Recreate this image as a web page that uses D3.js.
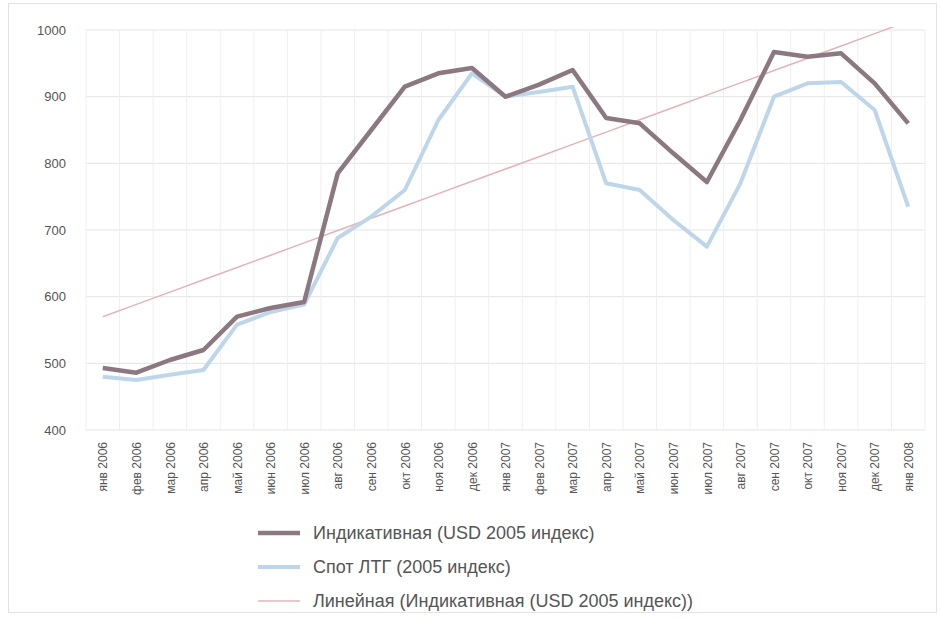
<!DOCTYPE html>
<html>
<head>
<meta charset="utf-8">
<script src="https://cdn.jsdelivr.net/npm/d3@7/dist/d3.min.js"></script>
<style>
  html, body { margin: 0; padding: 0; background: #ffffff; }
  svg { display: block; font-family: "Liberation Sans", Arial, sans-serif; }
</style>
</head>
<body>
<svg id="chart" width="942" height="619"></svg>
<script>
const categories = ["янв 2006","фев 2006","мар 2006","апр 2006","май 2006","июн 2006","июл 2006","авг 2006","сен 2006","окт 2006","ноя 2006","дек 2006",
  "янв 2007","фев 2007","мар 2007","апр 2007","май 2007","июн 2007","июл 2007","авг 2007","сен 2007","окт 2007","ноя 2007","дек 2007","янв 2008"];
const indicative = [493, 486, 505, 520, 570, 583, 592, 785, 850, 915, 935, 943, 900, 918, 940, 868, 860, 815, 772, 865, 967, 960, 965, 920, 860];
const spot = [480, 475, 483, 490, 558, 577, 588, 688, 720, 760, 865, 935, 900, 907, 915, 770, 760, 715, 675, 770, 900, 920, 922, 880, 735];
const yTicks = [400, 500, 600, 700, 800, 900, 1000];
const seriesNames = ["Индикативная (USD 2005 индекс)", "Спот ЛТГ (2005 индекс)", "Линейная (Индикативная (USD 2005 индекс))"];

(function () {
const svg = d3.select("#chart");
const mLeft = 86, mRight = 925, mTop = 30, mBottom = 430;

svg.append("rect").attr("x", 8.5).attr("y", 3.5).attr("width", 928).attr("height", 609)
  .attr("fill", "#fff").attr("stroke", "#e3e3e3");

const x = d3.scalePoint().domain(categories).range([mLeft, mRight]).padding(0.5);
const y = d3.scaleLinear().domain([400, 1000]).range([mBottom, mTop]);
const step = x.step();

svg.append("g").selectAll("line").data(yTicks).join("line")
  .attr("x1", mLeft).attr("x2", mRight)
  .attr("y1", d => y(d)).attr("y2", d => y(d))
  .attr("stroke", "#e4e4e4").attr("stroke-width", 1);

const vg = d3.range(categories.length + 1).map(i => mLeft + i * step);
svg.append("g").selectAll("line").data(vg).join("line")
  .attr("x1", d => d).attr("x2", d => d)
  .attr("y1", mTop).attr("y2", mBottom)
  .attr("stroke", "#efefef").attr("stroke-width", 1);

const yAxis = d3.axisLeft(y).tickValues(yTicks).tickFormat(d3.format("d")).tickSize(0).tickPadding(0);
const gy = svg.append("g").attr("transform", "translate(66,0)").call(yAxis);
gy.select(".domain").remove();
gy.selectAll("text").attr("font-size", 13).attr("fill", "#555").attr("font-family", "Liberation Sans, Arial, sans-serif");

const xAxis = d3.axisBottom(x).tickSize(0).tickPadding(0);
const gx = svg.append("g").attr("transform", `translate(0,${mBottom + 12})`).call(xAxis);
gx.select(".domain").remove();
gx.selectAll("text")
  .attr("font-size", 12).attr("fill", "#555").attr("font-family", "Liberation Sans, Arial, sans-serif")
  .attr("transform", "rotate(-90)")
  .attr("text-anchor", "end")
  .attr("dy", "0.35em")
  .attr("x", 0).attr("y", 0);

const n = indicative.length;
const xs = d3.range(n);
const mx = d3.mean(xs), my = d3.mean(indicative);
const slope = d3.sum(xs, i => (i - mx) * (indicative[i] - my)) / d3.sum(xs, i => (i - mx) ** 2);
const intercept = my - slope * mx;
const trend = xs.map(i => intercept + slope * i);

svg.append("clipPath").attr("id", "clip").append("rect")
  .attr("x", mLeft).attr("y", mTop - 3).attr("width", mRight - mLeft).attr("height", mBottom - mTop + 3);

const line = d3.line().x((d, i) => x(categories[i])).y(d => y(d));

const plot = svg.append("g").attr("clip-path", "url(#clip)");
plot.append("path").datum(trend).attr("d", line)
  .attr("fill", "none").attr("stroke", "#e2b4b8").attr("stroke-width", 1.5);
plot.append("path").datum(spot).attr("d", line)
  .attr("fill", "none").attr("stroke", "#bdd6ea").attr("stroke-width", 4).attr("stroke-linejoin", "round");
plot.append("path").datum(indicative).attr("d", line)
  .attr("fill", "none").attr("stroke", "#8c7880").attr("stroke-width", 4.5).attr("stroke-linejoin", "round");

const legColors = ["#8c7880", "#bdd6ea", "#e2b4b8"];
const legWidths = [4.5, 4, 1.5];
const legY = [533, 567, 601];
const leg = svg.append("g");
seriesNames.forEach((name, i) => {
  leg.append("line").attr("x1", 258).attr("x2", 300).attr("y1", legY[i]).attr("y2", legY[i])
    .attr("stroke", legColors[i]).attr("stroke-width", legWidths[i]);
  leg.append("text").attr("x", 313).attr("y", legY[i]).attr("dy", "0.35em")
    .attr("font-size", 18).attr("fill", "#555").text(name);
});
})();
</script>
</body>
</html>
